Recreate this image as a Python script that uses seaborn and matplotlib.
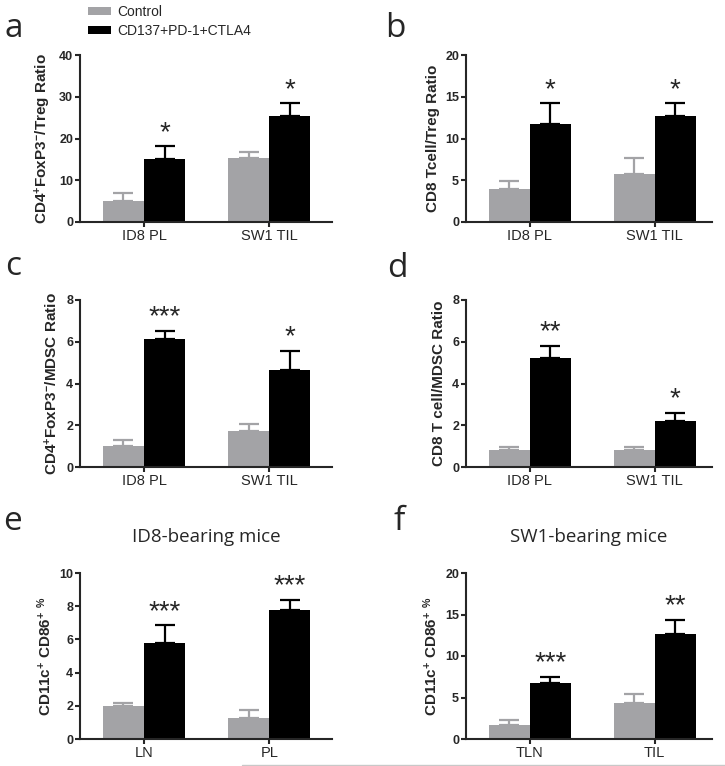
import numpy as np
import pandas as pd
import seaborn as sns
import matplotlib.pyplot as plt
from matplotlib.patches import Patch
from matplotlib.lines import Line2D

# group names
ctrl_name = "Control"
trt_name = "CD137+PD-1+CTLA4"

# panel a
sites_a = ["ID8 PL", "SW1 TIL"]
ctrl_a = [5.0, 15.3]
ctrl_err_a = [1.9, 1.4]
trt_a = [15.0, 25.3]
trt_err_a = [3.1, 3.1]
stars_a = ["*", "*"]

# panel b
sites_b = ["ID8 PL", "SW1 TIL"]
ctrl_b = [4.0, 5.8]
ctrl_err_b = [0.95, 1.9]
trt_b = [11.7, 12.7]
trt_err_b = [2.5, 1.5]
stars_b = ["*", "*"]

# panel c
sites_c = ["ID8 PL", "SW1 TIL"]
ctrl_c = [1.02, 1.73]
ctrl_err_c = [0.29, 0.33]
trt_c = [6.14, 4.67]
trt_err_c = [0.36, 0.87]
stars_c = ["***", "*"]

# panel d
sites_d = ["ID8 PL", "SW1 TIL"]
ctrl_d = [0.80, 0.82]
ctrl_err_d = [0.16, 0.16]
trt_d = [5.22, 2.18]
trt_err_d = [0.59, 0.41]
stars_d = ["**", "*"]

# panel e
sites_e = ["LN", "PL"]
ctrl_e = [1.96, 1.26]
ctrl_err_e = [0.22, 0.48]
trt_e = [5.76, 7.80]
trt_err_e = [1.08, 0.60]
stars_e = ["***", "***"]

# panel f
sites_f = ["TLN", "TIL"]
ctrl_f = [1.73, 4.38]
ctrl_err_f = [0.56, 1.04]
trt_f = [6.79, 12.6]
trt_err_f = [0.68, 1.70]
stars_f = ["***", "**"]

GRAY = "#a3a3a6"
BLACK = "#000000"

sns.set_style("ticks")
plt.rcParams['font.family'] = ['Liberation Sans', 'DejaVu Sans']
plt.rcParams['mathtext.fontset'] = 'custom'
plt.rcParams['mathtext.rm'] = 'Liberation Sans'
plt.rcParams['mathtext.bf'] = 'Liberation Sans:bold'
plt.rcParams['mathtext.default'] = 'bf'

W, H = 725, 766
fig = plt.figure(figsize=(W / 100, H / 100), dpi=100)


def px_axes(left, top, right, bottom):
    return fig.add_axes([left / W, 1 - bottom / H, (right - left) / W, (bottom - top) / H])


def bar_panel(ax, sites, ctrl, ctrl_err, trt, trt_err, stars, ylabel, ymax, ystep, xright):
    df = pd.DataFrame({
        "site": sites + sites,
        "group": [ctrl_name] * len(sites) + [trt_name] * len(sites),
        "value": ctrl + trt,
    })
    sns.barplot(data=df, x="site", y="value", hue="group", order=sites,
                hue_order=[ctrl_name, trt_name], palette=[GRAY, BLACK],
                width=0.656, errorbar=None, linewidth=0, saturation=1,
                legend=False, ax=ax)
    errs = [ctrl_err, trt_err]
    colors = [GRAY, BLACK]
    for cont, err, col in zip(ax.containers, errs, colors):
        xs = [p.get_x() + p.get_width() / 2 for p in cont]
        hs = [p.get_height() for p in cont]
        ax.errorbar(xs, hs, yerr=[np.zeros(len(err)), err], fmt='none',
                    ecolor=col, elinewidth=1.6, capsize=7.2, capthick=1.6, zorder=1)
    # significance stars above the treatment bars
    cont = ax.containers[1]
    for p, e, s in zip(cont, trt_err, stars):
        ax.annotate(s, (p.get_x() + p.get_width() / 2, p.get_height() + e),
                    xytext=(0, 0.5), textcoords='offset points', ha='center', va='bottom',
                    fontsize=20)
    ax.set_ylim(0, ymax)
    ax.set_yticks(np.arange(0, ymax + 0.001, ystep))
    ax.set_xlim(-0.51, xright)
    ax.set_xlabel("")
    ax.set_ylabel(ylabel, fontsize=11, fontweight='bold', labelpad=4)
    sns.despine(ax=ax)
    for sp in ['left', 'bottom']:
        ax.spines[sp].set_linewidth(1.5)
    ax.tick_params(axis='both', width=1.5, length=3.5, pad=1.5)
    ax.tick_params(axis='y', labelsize=9)
    ax.tick_params(axis='x', labelsize=10.5)
    for t in ax.get_yticklabels():
        t.set_fontweight('bold')


ax_a = px_axes(80, 55, 332, 222)
bar_panel(ax_a, sites_a, ctrl_a, ctrl_err_a, trt_a, trt_err_a, stars_a,
          "CD4$^{+}$FoxP3$^{-}$/Treg Ratio", 40, 10, 1.50)

ax_b = px_axes(466, 55, 712, 222)
bar_panel(ax_b, sites_b, ctrl_b, ctrl_err_b, trt_b, trt_err_b, stars_b,
          "CD8 Tcell/Treg Ratio", 20, 5, 1.46)

ax_c = px_axes(80, 300, 332, 467)
bar_panel(ax_c, sites_c, ctrl_c, ctrl_err_c, trt_c, trt_err_c, stars_c,
          "CD4$^{+}$FoxP3$^{-}$/MDSC Ratio", 8, 2, 1.50)

ax_d = px_axes(466, 300, 712, 467)
bar_panel(ax_d, sites_d, ctrl_d, ctrl_err_d, trt_d, trt_err_d, stars_d,
          "CD8 T cell/MDSC Ratio", 8, 2, 1.46)

ax_e = px_axes(80, 573, 332, 739)
bar_panel(ax_e, sites_e, ctrl_e, ctrl_err_e, trt_e, trt_err_e, stars_e,
          "CD11c$^{+}$ CD86$^{+}$ $^{\\%}$", 10, 2, 1.50)
ax_e.set_title("ID8-bearing mice", fontsize=13.5, family='Open Sans', pad=22)

ax_f = px_axes(466, 573, 712, 739)
bar_panel(ax_f, sites_f, ctrl_f, ctrl_err_f, trt_f, trt_err_f, stars_f,
          "CD11c$^{+}$ CD86$^{+}$ $^{\\%}$", 20, 5, 1.46)
ax_f.set_title("SW1-bearing mice", fontsize=13.5, family='Open Sans', pad=22)

# panel letters
for lab, x, y in [("a", 4, 37), ("b", 385, 37), ("c", 5, 275),
                  ("d", 387, 277), ("e", 3, 530), ("f", 393, 530)]:
    fig.text(x / W, 1 - y / H, lab, fontsize=24, family='Open Sans', va='baseline', ha='left')

# legend
handles = [Patch(facecolor=GRAY, edgecolor='none'), Patch(facecolor=BLACK, edgecolor='none')]
fig.legend(handles, [ctrl_name, trt_name], loc='upper left',
           bbox_to_anchor=(88 / W, 1 - 5 / H), frameon=False, fontsize=10,
           handlelength=1.65, handleheight=0.58, handletextpad=0.45,
           labelspacing=0.35, borderpad=0, borderaxespad=0)

# thin rule along the bottom edge
fig.add_artist(Line2D([242 / W, 1], [1 - 765 / H, 1 - 765 / H], transform=fig.transFigure,
                      color='#c8c8c8', lw=1))

fig.savefig("out.png", dpi=100)
